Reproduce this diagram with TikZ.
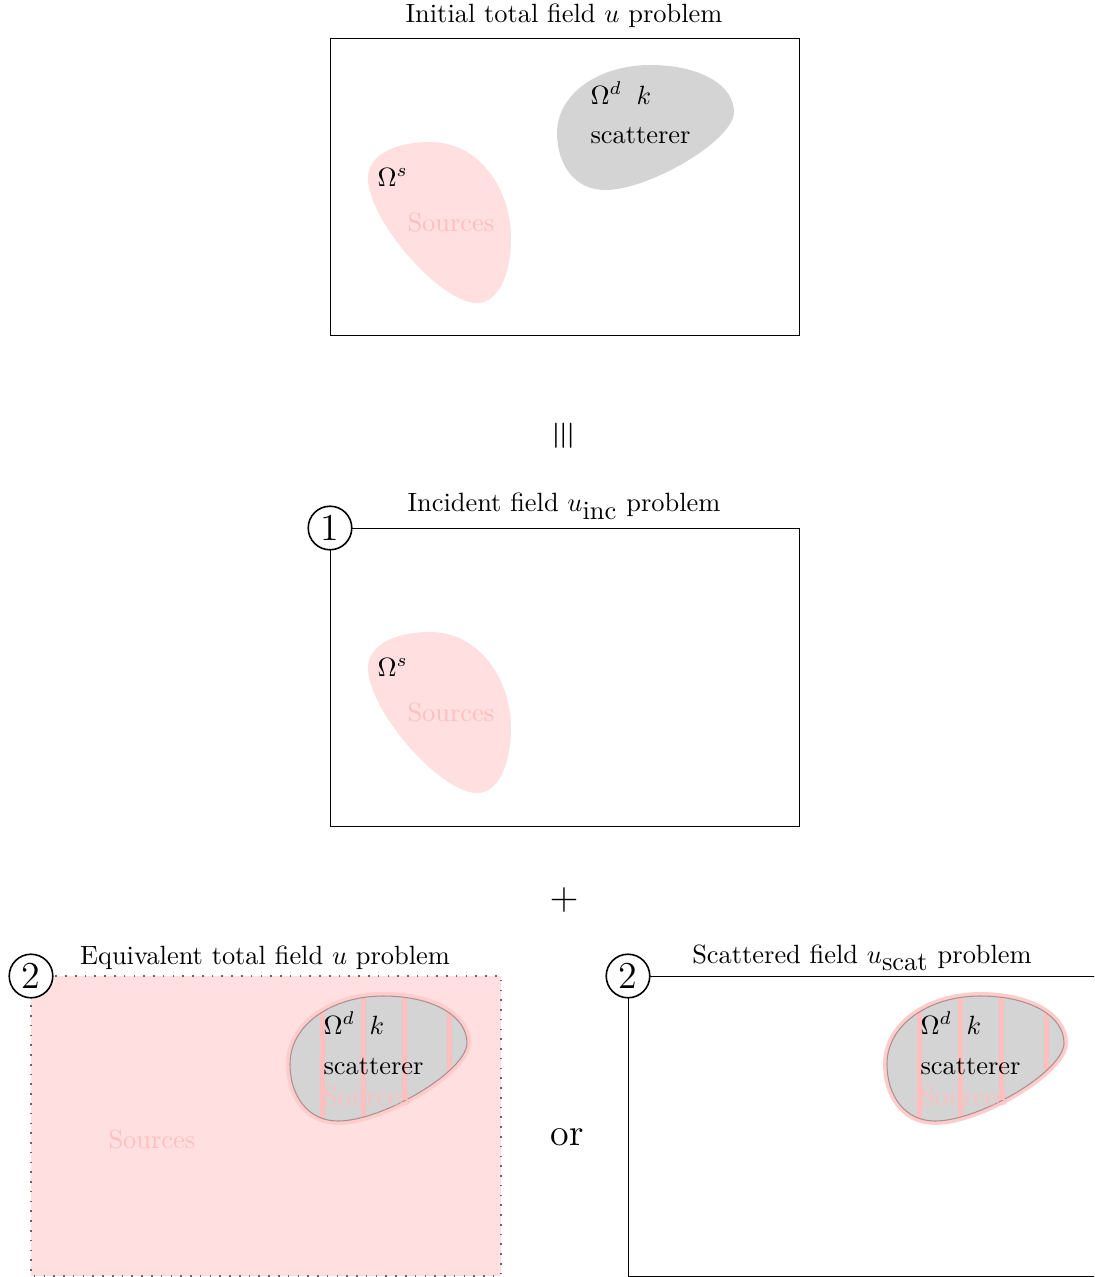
\documentclass[tikz,border=0pt]{standalone}
\usepackage{graphicx}
\begin{document}
\begin{tikzpicture}[x=0.3788pt,y=-0.3788pt,
  frame/.style={draw=black,line width=0.35pt},
  title/.style={inner sep=0pt,font=\normalsize},
  num/.style={draw=black,circle,fill=white,line width=0.6pt,minimum size=16.5pt,inner sep=0pt,font=\Large},
  srctext/.style={text=pink,inner sep=0pt,anchor=west},
  lbl/.style={inner sep=0pt,anchor=west},
  scatfill/.style={fill=black!17},
  srcfill/.style={fill=pink!50}]
\clip (0,0) rectangle (1094,1277);
\useasboundingbox (0,0) rectangle (1094,1277);
\def\scatshape{(557,133) .. controls (557,93) and (600,65) .. (650,65) .. controls (700,65) and (734,85) .. (734,112) .. controls (734,140) and (650,190) .. (605,190) .. controls (575,190) and (557,165) .. (557,133) -- cycle}
\def\srcshape{(430,142) .. controls (480,142) and (511,190) .. (511,238) .. controls (511,275) and (498,303) .. (477,303) .. controls (440,303) and (368,220) .. (368,178) .. controls (368,155) and (395,142) .. (430,142) -- cycle}
\tikzset{
  scatpath/.pic={\path[pic actions] \scatshape;},
  srcpath/.pic={\path[pic actions] \srcshape;},
  stripedblob/.pic={
    \path[draw=pink!80,line width=3] \scatshape;
    \begin{scope}
      \path[clip] \scatshape;
      \fill[black!17] (540,50) rectangle (750,200);
      \foreach \sx in {589,630,671,716} {\fill[pink] (\sx-2.5,50) rectangle (\sx+2.5,200);}
    \end{scope}
    \path[draw=pink!60!black!80,line width=0.4] \scatshape;
  }
}
% ---- Box 1: initial problem
\node[title] (t1) at (564,16) {Initial total field $u$ problem};
\draw[frame] (330,38) rectangle (799,335);
\pic[scatfill] (scat1) at (0,0) {scatpath};
\pic[srcfill] (src1) at (0,0) {srcpath};
\node[lbl] (od1) at (590,93) {$\Omega^d\;\;k$};
\node[lbl] (sc1) at (590,136) {scatterer};
\node[lbl] (os1) at (377,177) {$\Omega^s$};
\node[srctext] (s1) at (407,222) {Sources};
% ---- equivalence
\node (eq) at (564,436) {\Large\rotatebox{90}{$\equiv$}};
% ---- Box 2: incident
\node[title] (t2) at (564,506) {Incident field $u_{\mbox{inc}}$ problem};
\draw[frame] (330,528) rectangle (799,826);
\pic[srcfill] (src2) at (0,490) {srcpath};
\node[lbl] (os2) at (377,667) {$\Omega^s$};
\node[srctext] (s2) at (407,712) {Sources};
\node[num] (n1) at (330,528) {1};
% ---- plus
\node (plus) at (564,900) {\Large$+$};
% ---- Box 3: equivalent
\node[title] (t3) at (265,958) {Equivalent total field $u$ problem};
\fill[pink!50] (31,976) rectangle (501,1276);
\draw[black!60,dash pattern=on 0.6pt off 3.1pt,line width=0.6pt] (31,976) rectangle (501,1276);
\node[srctext] (s3) at (108,1139) {Sources};
\pic (blob3) at (-267,931) {stripedblob};
\node[lbl] (od3) at (323,1023) {$\Omega^d\;\;k$};
\node[lbl] (sc3) at (323,1067) {scatterer};
\node[srctext] (s3b) at (323,1096) {Sources};
\node[num] (n2) at (31,976) {2};
% ---- or
\node (or) at (567,1137) {\Large or};
% ---- Box 4: scattered
\node[title] (t4) at (862,958) {Scattered field $u_{\mbox{scat}}$ problem};
\draw[frame] (628,976) rectangle (1098,1276);
\pic (blob4) at (330,931) {stripedblob};
\node[lbl] (od4) at (920,1023) {$\Omega^d\;\;k$};
\node[lbl] (sc4) at (920,1067) {scatterer};
\node[srctext] (s4b) at (920,1096) {Sources};
\node[num] (n3) at (628,976) {2};
\end{tikzpicture}
\end{document}
